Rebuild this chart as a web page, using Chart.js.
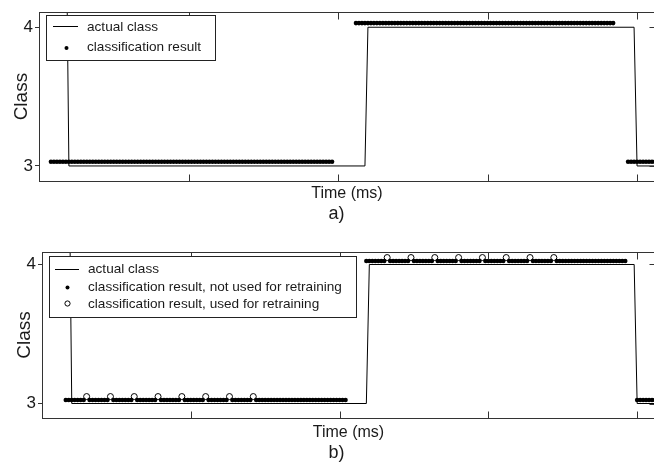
<!DOCTYPE html>
<html><head><meta charset="utf-8">
<script src="https://cdn.jsdelivr.net/npm/chart.js@4.4.1/dist/chart.umd.min.js"></script>
<style>
html,body{margin:0;padding:0;width:654px;height:469px;overflow:hidden;background:#fff}
canvas{position:absolute;left:0}
#ca{top:0}
#cb{top:236px}
</style></head><body>
<canvas id="ca" width="660" height="232"></canvas>
<canvas id="cb" width="660" height="233"></canvas>
<script>
// ---- data (x = sample index along Time) ----
const yTicks = [3, 4];
const xTicks = [0, 50, 100, 150, 200];
const xRange = [0, 206];

// chart a)
const actualSamplesA = [0, 9, 10, 109, 110, 199, 200, 206];
const actualClassA   = [5, 5, 3, 3, 4, 4, 3, 3];
// runs of classification results: [first sample, last sample, class]
const resultRunsA = [[4, 98, 3], [106, 192, 4], [197, 206, 3]];

// chart b)
const actualSamplesB = [0, 9, 10, 109, 110, 199, 200, 206];
const actualClassB   = [5, 5, 3, 3, 4, 4, 3, 3];
const resultRunsB = [[8, 102, 3], [109, 196, 4], [200, 206, 3]];
const retrainSamplesB = [15, 23, 31, 39, 47, 55, 63, 71, 116, 124, 132, 140, 148, 156, 164, 172];
const retrainClassB   = [3, 3, 3, 3, 3, 3, 3, 3, 4, 4, 4, 4, 4, 4, 4, 4];

const FAMILY = '"Liberation Sans", Arial, sans-serif';
const INK = '#1a1a1a';
const FRAME = '#333';

function linePoints(xs, ys) { return xs.map((x, i) => ({x: x, y: ys[i]})); }
function runPoints(runs, skip, lift) {
  const pts = [];
  runs.forEach(([s0, s1, c]) => {
    for (let s = s0; s <= s1; s++) if (!skip.includes(s)) pts.push({x: s, y: c + lift});
  });
  return pts;
}

const framePlugin = {
  id: 'frame',
  afterDatasetsDraw(chart, args, o) {
    const {ctx, chartArea: a, scales: {x, y}} = chart;
    ctx.save();
    ctx.strokeStyle = FRAME; ctx.lineWidth = 1;
    const L = Math.round(a.left) + 0.5, T = Math.round(a.top) + 0.5;
    const R = Math.round(a.right) + 0.5, B = Math.round(a.bottom) + 0.5;
    ctx.strokeRect(L, T, R - L, B - T);
    ctx.beginPath();
    xTicks.forEach(v => {
      const px = Math.round(x.getPixelForValue(v)) + 0.5;
      ctx.moveTo(px, T); ctx.lineTo(px, T + 7);
      ctx.moveTo(px, B); ctx.lineTo(px, B - 7);
    });
    yTicks.forEach(v => {
      const py = Math.round(y.getPixelForValue(v)) + 0.5;
      ctx.moveTo(R, py); ctx.lineTo(R - 6, py);
    });
    ctx.stroke();

    // legend box
    const lg = o.legend;
    ctx.fillStyle = '#fff';
    ctx.fillRect(lg.box[0], lg.box[1], lg.box[2], lg.box[3]);
    ctx.strokeStyle = '#222';
    ctx.strokeRect(lg.box[0] + 0.5, lg.box[1] + 0.5, lg.box[2], lg.box[3]);
    ctx.font = '13.6px ' + FAMILY;
    ctx.textBaseline = 'middle';
    ctx.textAlign = 'left';
    const ds = chart.data.datasets;
    lg.rows.forEach((r, i) => {
      const d = ds[i];
      ctx.strokeStyle = '#000';
      if (r.kind === 'line') {
        ctx.beginPath();
        ctx.moveTo(lg.sample[0], Math.round(r.y) + 0.5);
        ctx.lineTo(lg.sample[1], Math.round(r.y) + 0.5);
        ctx.lineWidth = 1; ctx.stroke();
      } else if (r.kind === 'dot') {
        ctx.beginPath(); ctx.arc(lg.marker, r.y, 2, 0, Math.PI * 2);
        ctx.fillStyle = '#000'; ctx.fill();
      } else {
        ctx.beginPath(); ctx.arc(lg.marker, r.y, 2.6, 0, Math.PI * 2);
        ctx.lineWidth = 1; ctx.stroke();
      }
      ctx.fillStyle = INK;
      ctx.fillText(d.label, lg.textX, r.ty);
    });

    // caption
    ctx.font = '18px ' + FAMILY;
    ctx.textAlign = 'center';
    ctx.fillStyle = INK;
    ctx.fillText(o.caption, 336.5, o.captionY);
    ctx.restore();
  }
};

function makeChart(id, cfg, datasets) {
  return new Chart(document.getElementById(id), {
    type: 'scatter',
    data: {datasets: datasets},
    options: {
      responsive: false, animation: false, devicePixelRatio: 1,
      layout: {padding: {left: 0, top: cfg.padTop, right: cfg.padRight, bottom: cfg.padBottom}},
      plugins: {
        legend: {display: false}, tooltip: {enabled: false},
        frame: {legend: cfg.legend, caption: cfg.caption, captionY: cfg.captionY}
      },
      scales: {
        x: {
          type: 'linear', min: xRange[0], max: xRange[1],
          afterBuildTicks: s => { s.ticks = xTicks.map(v => ({value: v})); },
          ticks: {display: false}, grid: {display: false}, border: {display: false},
          title: {display: true, text: 'Time (ms)', color: INK,
                  font: {family: FAMILY, size: 16, lineHeight: '20px'}, padding: {top: 0, bottom: 0}},
          afterFit: s => { s.height = cfg.xHeight; }
        },
        y: {
          type: 'linear', min: cfg.yMin, max: cfg.yMax,
          afterBuildTicks: s => { s.ticks = yTicks.map(v => ({value: v})); },
          ticks: {font: {family: FAMILY, size: 17}, color: INK, padding: 2},
          grid: {drawOnChartArea: false, drawTicks: true, tickLength: 4, color: FRAME},
          border: {display: false},
          title: {display: true, text: 'Class', color: INK,
                  font: {family: FAMILY, size: 19, lineHeight: 1.2}, padding: {top: cfg.yTitlePad, bottom: 0}},
          afterFit: s => { s.width = cfg.left; }
        }
      }
    },
    plugins: [framePlugin]
  });
}

const lineStyle = {showLine: true, borderColor: '#000', borderWidth: 1, pointRadius: 0, tension: 0};
const dotStyle = {showLine: false, pointRadius: 2.3, pointBackgroundColor: '#000', pointBorderColor: '#000', pointBorderWidth: 0};
const ringStyle = {showLine: false, pointRadius: 3, pointBackgroundColor: 'rgba(0,0,0,0)', pointBorderColor: '#000', pointBorderWidth: 1};

makeChart('ca', {
  padTop: 7, padRight: 5, padBottom: 28, xHeight: 23, left: 39,
  yMin: 2.8916, yMax: 4.1084, yTitlePad: 10,
  caption: 'a)', captionY: 214,
  legend: {box: [46, 15, 169, 45], sample: [53, 78], marker: 66.5, textX: 87,
           rows: [{kind: 'line', y: 26, ty: 27.5}, {kind: 'dot', y: 48, ty: 47.5}]}
}, [
  Object.assign({label: 'actual class', data: linePoints(actualSamplesA, actualClassA)}, lineStyle),
  Object.assign({label: 'classification result', data: runPoints(resultRunsA, [], 0.03)}, dotStyle)
]);

const retrainPointsB = retrainSamplesB.map((s, i) => ({x: s, y: retrainClassB[i] + 0.05}));
makeChart('cb', {
  padTop: 16, padRight: 4, padBottom: 26, xHeight: 25, left: 42,
  yMin: 2.8957, yMax: 4.0899, yTitlePad: 13,
  caption: 'b)', captionY: 217,
  legend: {box: [49, 20, 307, 61], sample: [55, 79], marker: 67.5, textX: 88,
           rows: [{kind: 'line', y: 33, ty: 33.5}, {kind: 'dot', y: 51.5, ty: 51.5}, {kind: 'ring', y: 67.5, ty: 68}]}
}, [
  Object.assign({label: 'actual class', data: linePoints(actualSamplesB, actualClassB)}, lineStyle),
  Object.assign({label: 'classification result, not used for retraining', data: runPoints(resultRunsB, retrainSamplesB, 0.025)}, dotStyle),
  Object.assign({label: 'classification result, used for retraining', data: retrainPointsB}, ringStyle)
]);
</script>
</body></html>
